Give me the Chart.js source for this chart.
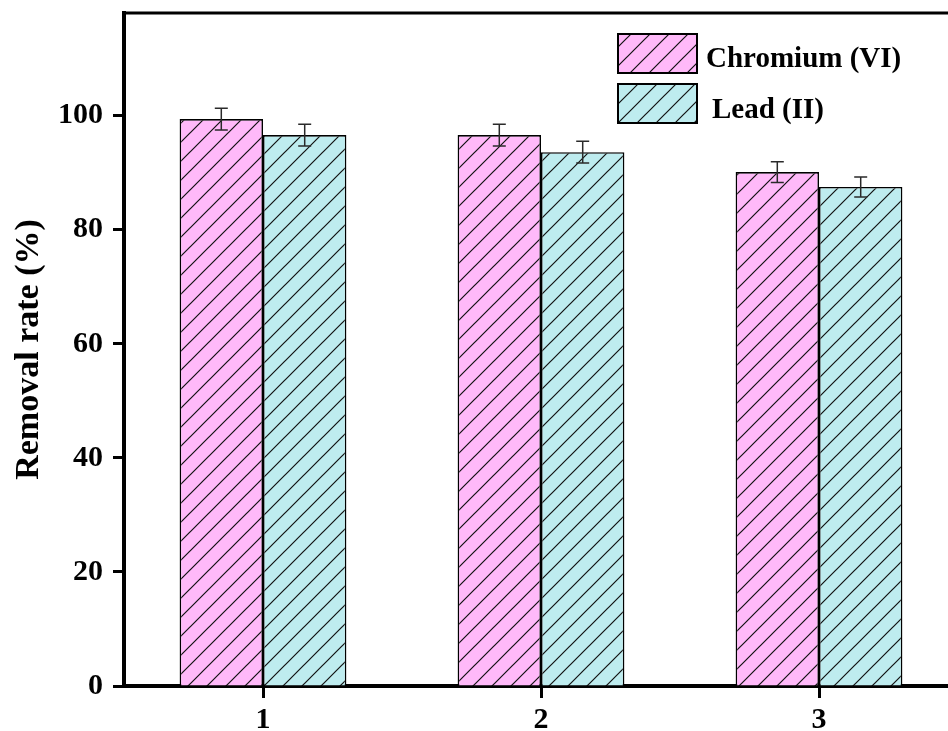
<!DOCTYPE html>
<html>
<head>
<meta charset="utf-8">
<script src="https://cdn.jsdelivr.net/npm/chart.js@4.4.0/dist/chart.umd.min.js"></script>
<style>
html, body { margin: 0; padding: 0; background: #fff; overflow: hidden; }
</style>
</head>
<body>
<canvas id="chart" width="960" height="731"></canvas>
<script>
// values
const runs = ['1', '2', '3'];
const chromium = [99.4, 96.6, 90.1];
const chromiumErr = [1.9, 1.9, 1.8];
const lead = [96.6, 93.6, 87.5];
const leadErr = [1.9, 1.9, 1.75];
const seriesNames = ['Chromium (VI)', 'Lead (II)'];
const errors = [chromiumErr, leadErr];

const FONT = 'Liberation Serif';

function hatch(color) {
    const s = 19;
    const c = document.createElement('canvas');
    c.width = s; c.height = s;
    const g = c.getContext('2d');
    g.fillStyle = color;
    g.fillRect(0, 0, s, s);
    g.strokeStyle = '#111';
    g.lineWidth = 1.2;
    g.beginPath();
    g.moveTo(0, s); g.lineTo(s, 0);
    g.moveTo(-s / 2, s / 2); g.lineTo(s / 2, -s / 2);
    g.moveTo(s / 2, s * 1.5); g.lineTo(s * 1.5, s / 2);
    g.stroke();
    return g.createPattern(c, 'repeat');
}

// error bars on top of the bars
const errorBars = {
    id: 'errorBars',
    afterDatasetsDraw(chart) {
        const ctx = chart.ctx;
        const y = chart.scales.y;
        chart.data.datasets.forEach((ds, i) => {
            chart.getDatasetMeta(i).data.forEach((bar, j) => {
                const v = ds.data[j], e = errors[i][j];
                const top = y.getPixelForValue(v + e);
                const bot = y.getPixelForValue(v - e);
                ctx.save();
                ctx.strokeStyle = '#2a2a2a';
                ctx.lineWidth = 1.5;
                ctx.beginPath();
                ctx.moveTo(bar.x, top); ctx.lineTo(bar.x, bot);
                ctx.moveTo(bar.x - 6.5, top); ctx.lineTo(bar.x + 6.5, top);
                ctx.moveTo(bar.x - 6.5, bot); ctx.lineTo(bar.x + 6.5, bot);
                ctx.stroke();
                ctx.restore();
            });
        });
    }
};

// top frame line + legend in the upper right
const frameAndLegend = {
    id: 'frameAndLegend',
    afterDraw(chart) {
        const ctx = chart.ctx;
        const a = chart.chartArea;
        ctx.save();
        ctx.strokeStyle = '#000';
        ctx.lineWidth = 3;
        ctx.beginPath();
        ctx.moveTo(a.left - 2, a.top);
        ctx.lineTo(a.right, a.top);
        ctx.stroke();

        chart.data.datasets.forEach((ds, i) => {
            const bx = 618, by = 34 + i * 50;
            ctx.fillStyle = ds.backgroundColor;
            ctx.fillRect(bx, by, 79, 39);
            ctx.lineWidth = 2;
            ctx.strokeStyle = '#000';
            ctx.strokeRect(bx, by, 79, 39);
            ctx.fillStyle = '#000';
            ctx.font = 'bold 29px "' + FONT + '"';
            ctx.textBaseline = 'alphabetic';
            ctx.fillText(ds.label, bx + 88 + i * 6, 66.5 + i * 51.5);
        });
        ctx.restore();
    }
};

const tickFont = { family: FONT, weight: 'bold', size: 30 };

new Chart(document.getElementById('chart'), {
    type: 'bar',
    data: {
        labels: runs,
        datasets: [
            {
                label: seriesNames[0],
                data: chromium,
                backgroundColor: hatch('#FFB9F9'),
                borderColor: '#000',
                borderWidth: 1.6
            },
            {
                label: seriesNames[1],
                data: lead,
                backgroundColor: hatch('#BEECEF'),
                borderColor: '#000',
                borderWidth: 1.6
            }
        ]
    },
    options: {
        responsive: false,
        animation: false,
        devicePixelRatio: 1,
        layout: { padding: { top: 13, right: 2, left: 0, bottom: 0 } },
        datasets: { bar: { categoryPercentage: 0.6, barPercentage: 1.0 } },
        plugins: { legend: { display: false }, tooltip: { enabled: false } },
        scales: {
            x: {
                grid: { offset: false, drawOnChartArea: false, tickLength: 12, tickWidth: 3, color: '#000' },
                border: { color: '#000', width: 4 },
                ticks: { color: '#000', font: tickFont, padding: 4, maxRotation: 0 },
                afterFit(s) { s.height = 45; s.paddingLeft = 0; s.paddingRight = 0; }
            },
            y: {
                min: 0,
                max: 118,
                grid: { drawOnChartArea: false, tickLength: 11, tickWidth: 3, color: '#000' },
                border: { color: '#000', width: 4 },
                ticks: { stepSize: 20, includeBounds: false, color: '#000', font: tickFont, padding: 10 },
                title: {
                    display: true,
                    text: 'Removal rate (%)',
                    color: '#000',
                    font: { family: FONT, weight: 'bold', size: 34 },
                    padding: { top: 9, bottom: 0 }
                },
                afterFit(s) { s.width = 124; s.paddingTop = 0; s.paddingBottom = 0; }
            }
        }
    },
    plugins: [errorBars, frameAndLegend]
});
</script>
</body>
</html>
